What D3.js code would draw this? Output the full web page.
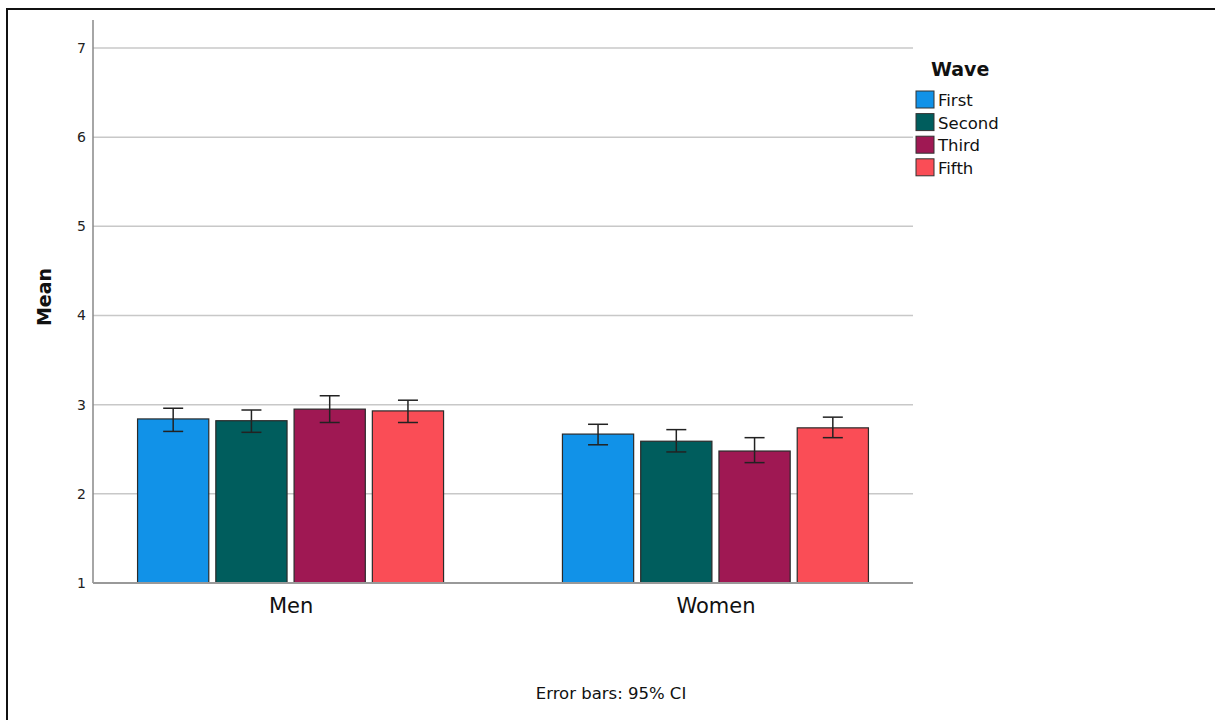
<!DOCTYPE html>
<html><head><meta charset="utf-8">
<script src="https://cdn.jsdelivr.net/npm/d3@7"></script>
<style>body{margin:0;background:#fff;} svg{display:block;font-family:"DejaVu Sans",Verdana,sans-serif;}</style>
</head><body>
<svg id="c" width="1215" height="720"></svg>
<script>
const groups = ["Men", "Women"];
const waves = ["First", "Second", "Third", "Fifth"];
const colors = ["#1192e8", "#005d5d", "#9f1853", "#fa4d56"];
const meanMen = [2.84, 2.82, 2.95, 2.93];
const meanWomen = [2.67, 2.59, 2.48, 2.74];
const ciLowMen = [2.70, 2.69, 2.80, 2.80];
const ciHighMen = [2.96, 2.94, 3.10, 3.05];
const ciLowWomen = [2.55, 2.47, 2.35, 2.63];
const ciHighWomen = [2.78, 2.72, 2.63, 2.86];
const yTicks = [1, 2, 3, 4, 5, 6, 7];

(function () {
const data = [];
groups.forEach((g, gi) => {
  const m = gi === 0 ? meanMen : meanWomen;
  const lo = gi === 0 ? ciLowMen : ciLowWomen;
  const hi = gi === 0 ? ciHighMen : ciHighWomen;
  waves.forEach((w, wi) => data.push({group: g, wave: w, mean: m[wi], lo: lo[wi], hi: hi[wi], color: colors[wi]}));
});

const svg = d3.select("#c");
svg.append("rect").attr("x", 7).attr("y", 9).attr("width", 1240).attr("height", 760)
  .attr("fill", "none").attr("stroke", "#111").attr("stroke-width", 2);

const pL = 93, pR = 913, pT = 20, pB = 583;
const y = d3.scaleLinear().domain([1, 7]).range([pB, 48]);
const xg = d3.scalePoint().domain(groups).range([pL, pR]).padding(0.465);
const xb = d3.scaleBand().domain(waves).range([-153, 153]).paddingInner(0.09).paddingOuter(0);

svg.append("g").selectAll("line").data(yTicks.filter(t => t > 1)).join("line")
  .attr("x1", pL).attr("x2", pR).attr("y1", d => y(d)).attr("y2", d => y(d))
  .attr("stroke", "#c8c8c8").attr("stroke-width", 1.5);

const yAxis = svg.append("g").attr("transform", `translate(${pL},0)`)
  .call(d3.axisLeft(y).tickValues(yTicks).tickSize(0).tickPadding(7).tickFormat(d3.format("d")));
yAxis.select(".domain").remove();
yAxis.selectAll("text").attr("font-size", 14).attr("fill", "#222").attr("font-family", "DejaVu Sans");
svg.append("line").attr("x1", pL).attr("x2", pL).attr("y1", pT).attr("y2", pB)
  .attr("stroke", "#888").attr("stroke-width", 1.5);

svg.append("g").selectAll("rect").data(data).join("rect")
  .attr("x", d => xg(d.group) + xb(d.wave))
  .attr("width", xb.bandwidth())
  .attr("y", d => y(d.mean))
  .attr("height", d => y(1) - y(d.mean))
  .attr("fill", d => d.color)
  .attr("stroke", "#2a2a2a").attr("stroke-width", 1.2);

svg.append("line").attr("x1", pL).attr("x2", pR).attr("y1", pB).attr("y2", pB)
  .attr("stroke", "#999").attr("stroke-width", 2);

const eb = svg.append("g").attr("stroke", "#222").attr("stroke-width", 1.5);
data.forEach(d => {
  const cx = xg(d.group) + xb(d.wave) + xb.bandwidth() / 2;
  eb.append("line").attr("x1", cx).attr("x2", cx).attr("y1", y(d.lo)).attr("y2", y(d.hi));
  eb.append("line").attr("x1", cx - 10).attr("x2", cx + 10).attr("y1", y(d.lo)).attr("y2", y(d.lo));
  eb.append("line").attr("x1", cx - 10).attr("x2", cx + 10).attr("y1", y(d.hi)).attr("y2", y(d.hi));
});

const xAxis = svg.append("g").attr("transform", `translate(0,${pB})`)
  .call(d3.axisBottom(xg).tickSize(0).tickPadding(15));
xAxis.select(".domain").remove();
xAxis.selectAll("text").attr("font-size", 21).attr("fill", "#111").attr("font-family", "DejaVu Sans");

svg.append("text").attr("transform", `translate(51,297) rotate(-90)`)
  .attr("text-anchor", "middle").attr("font-size", 19).attr("font-weight", "bold").attr("fill", "#111").text("Mean");

svg.append("text").attr("x", 931).attr("y", 76).attr("font-size", 19).attr("font-weight", "bold").attr("fill", "#111").text("Wave");
const lg = svg.append("g").selectAll("g").data(waves).join("g")
  .attr("transform", (d, i) => `translate(916,${91 + i * 22.6})`);
lg.append("rect").attr("width", 18).attr("height", 17)
  .attr("fill", (d, i) => colors[i]).attr("stroke", "#333").attr("stroke-width", 1);
lg.append("text").attr("x", 22).attr("y", 15).attr("font-size", 16.5).attr("fill", "#111").text(d => d);

svg.append("text").attr("x", 611).attr("y", 699).attr("text-anchor", "middle")
  .attr("font-size", 16.5).attr("fill", "#111").text("Error bars: 95% CI");
})();
</script>
</body></html>
